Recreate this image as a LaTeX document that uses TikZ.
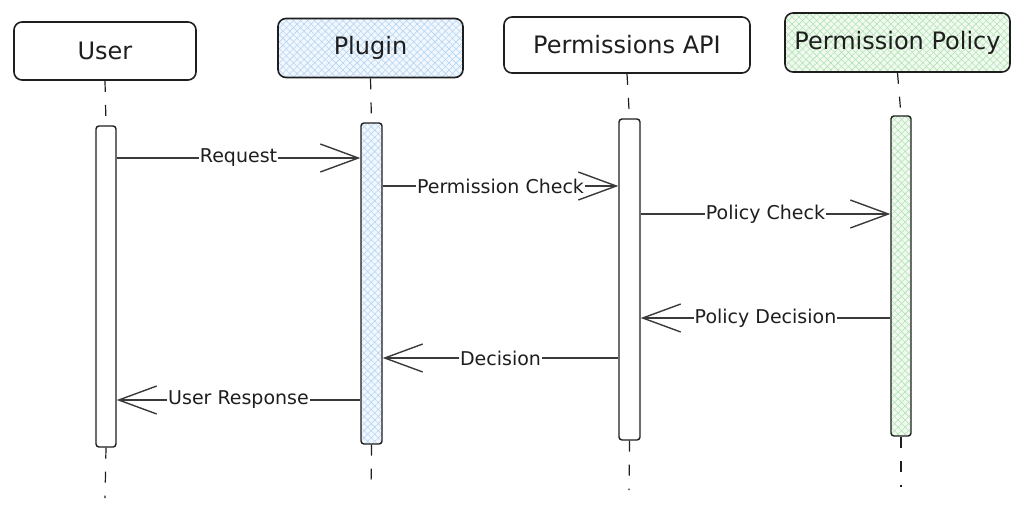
\documentclass[tikz,border=0pt]{standalone}
\usepackage{fontspec}
\setmainfont{DejaVu Sans}
\usetikzlibrary{arrows.meta,patterns.meta}
\definecolor{ink}{HTML}{1E1E1E}
\definecolor{arrowink}{HTML}{3A3A3A}
\definecolor{bluefill}{HTML}{F1F7FD}
\definecolor{bluehatch}{HTML}{B4D6F4}
\definecolor{greenfill}{HTML}{F1FAF1}
\definecolor{greenhatch}{HTML}{B2E3B2}
\tikzset{
  actor/.style={draw=ink, line width=1.6pt, rounded corners=8pt, inner sep=0pt,
    font=\fontsize{24}{28}\selectfont, text=ink},
  lifebar/.style={draw=ink, line width=1.4pt, rounded corners=3pt, fill=white, inner sep=0pt},
  lifeline/.style={draw=ink, line width=1.2pt, dash pattern=on 11pt off 13pt},
  msg/.style={draw=arrowink, line width=1.4pt,
    -{Straight Barb[length=38pt,width=28pt,line width=1.4pt]}},
  lbl/.style={fill=white, inner sep=1pt, font=\fontsize{19}{22}\selectfont, text=ink},
  bluehatched/.style={fill=none,
    preaction={fill=bluefill},
    preaction={pattern={Lines[angle=45,distance=5pt,line width=0.6pt]}, pattern color=bluehatch},
    preaction={pattern={Lines[angle=-45,distance=5pt,line width=0.6pt]}, pattern color=bluehatch}},
  greenhatched/.style={fill=none,
    preaction={fill=greenfill},
    preaction={pattern={Lines[angle=45,distance=5pt,line width=0.6pt]}, pattern color=greenhatch},
    preaction={pattern={Lines[angle=-45,distance=5pt,line width=0.6pt]}, pattern color=greenhatch}},
}
\begin{document}
\begin{tikzpicture}[x=1pt,y=-1pt]
\useasboundingbox (0,0) rectangle (1024,512);
% actors
\node[actor, minimum width=182pt, minimum height=58pt] (user) at (105,51) {User};
\node[actor, bluehatched, minimum width=185pt, minimum height=59pt] (plugin) at (370.5,48) {Plugin};
\node[actor, minimum width=246pt, minimum height=56pt] (api) at (627,45) {Permissions API};
\node[actor, greenhatched, minimum width=225pt, minimum height=59pt] (policy) at (897.5,42.5) {Permission Policy};
% lifeline ends
\coordinate (uend) at (105,498);
\coordinate (pend) at (371,492);
\coordinate (aend) at (629,490);
\coordinate (qend) at (901,487);
% activation bars (drawn as nodes)
\node[lifebar, minimum width=20pt, minimum height=321pt] (ubar) at (106,286.5) {};
\node[lifebar, bluehatched, minimum width=21pt, minimum height=321pt] (pbar) at (371.5,283.5) {};
\node[lifebar, minimum width=21pt, minimum height=321pt] (abar) at (629.5,279.5) {};
\node[lifebar, greenhatched, minimum width=20pt, minimum height=320pt] (qbar) at (901,276) {};
\draw[lifeline] (user.south) -- (ubar.north);
\draw[lifeline] (plugin.south) -- (pbar.north);
\draw[lifeline] (api.south) -- (abar.north);
\draw[lifeline] (policy.south) -- (qbar.north);
\draw[lifeline] (ubar.south) -- (uend);
\draw[lifeline] (pbar.south) -- (pend);
\draw[lifeline] (abar.south) -- (aend);
\draw[lifeline] (qbar.south) -- (qend);
% message heights
\coordinate (m1) at (0,158);
\coordinate (m2) at (0,186);
\coordinate (m3) at (0,214);
\coordinate (m4) at (0,318);
\coordinate (m5) at (0,358);
\coordinate (m6) at (0,400);
% messages
\draw[msg] (ubar.east |- m1) -- node[lbl] {Request} (pbar.west |- m1);
\draw[msg] (pbar.east |- m2) -- node[lbl] {Permission Check} (abar.west |- m2);
\draw[msg] (abar.east |- m3) -- node[lbl] {Policy Check} (qbar.west |- m3);
\draw[msg] (qbar.west |- m4) -- node[lbl] {Policy Decision} (abar.east |- m4);
\draw[msg] (abar.west |- m5) -- node[lbl] {Decision} (pbar.east |- m5);
\draw[msg] (pbar.west |- m6) -- node[lbl] {User Response} (ubar.east |- m6);
\end{tikzpicture}
\end{document}
